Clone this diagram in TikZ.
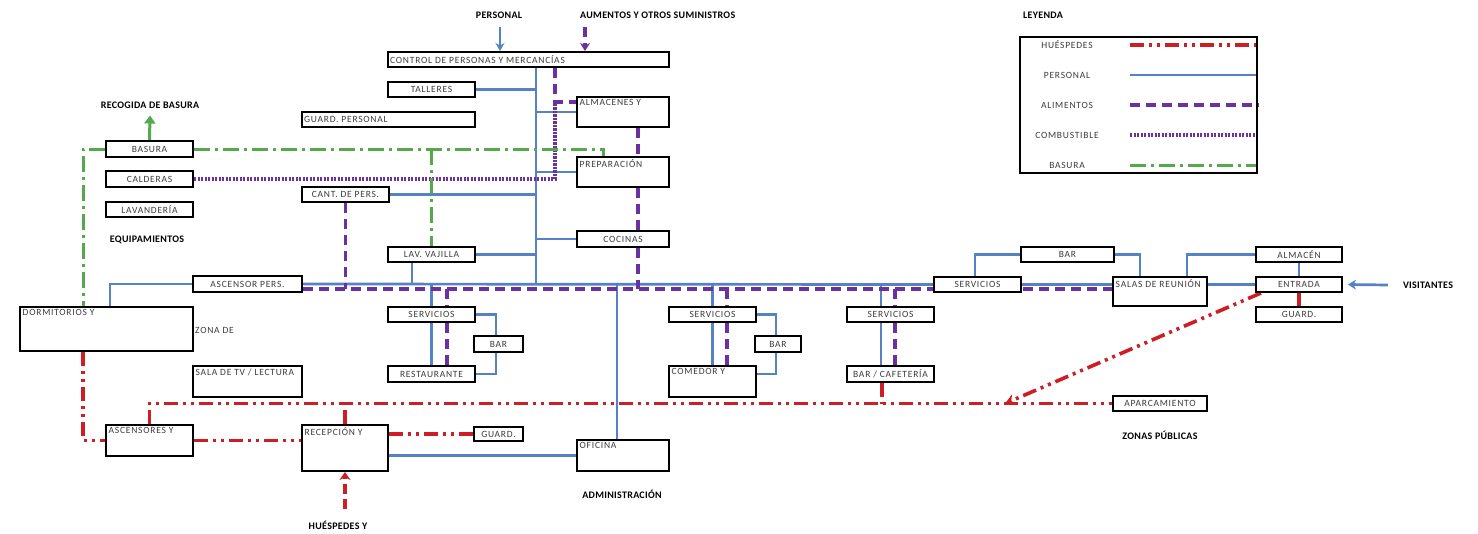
\documentclass[tikz,border=0pt]{standalone}
\usepackage{fontspec}
\setmainfont{Carlito}
\newfontfamily\bxfont[LetterSpace=8]{Carlito}
\newfontfamily\bdfont[LetterSpace=3]{Carlito}
\usetikzlibrary{arrows.meta,calc}
\pgfdeclarelayer{bg}
\pgfsetlayers{bg,main}
\definecolor{cPers}{RGB}{84,130,196}
\definecolor{cHue}{RGB}{204,30,36}
\definecolor{cAli}{RGB}{105,50,160}
\definecolor{cBas}{RGB}{86,168,76}
\definecolor{cTxt}{RGB}{60,60,60}
\tikzset{
 box/.style={draw=black, line width=2pt, fill=white, inner sep=0pt, font=\bxfont\fontsize{9.5}{10}\selectfont, text=cTxt},
 lbl/.style={font=\bxfont\fontsize{9.5}{10}\selectfont, text=cTxt, inner sep=3pt},
 ttl/.style={font=\bdfont\bfseries\fontsize{10}{11}\selectfont, text=black, inner sep=0pt},
 personal/.style={draw=cPers, line width=2.7pt},
 huesp/.style={draw=cHue, line width=3.6pt, dash pattern=on 14pt off 5pt on 3pt off 5pt on 3pt off 5pt},
 alim/.style={draw=cAli, line width=3.4pt, dash pattern=on 10pt off 6pt},
 comb/.style={draw=cAli, line width=3.2pt, dash pattern=on 2.2pt off 1.3pt},
 basura/.style={draw=cBas, line width=3pt, dash pattern=on 16pt off 5pt on 3pt off 5pt},
 legbox/.style={draw=black, line width=2.6pt, inner sep=0pt},
}
\newcommand\Bc[6]{\node[box,minimum width={#4pt-#2pt},minimum height={#5pt-#3pt}] (#1) at ({(#2+#4)/2},{(#3+#5)/2}) {#6};}
\newcommand\Bl[6]{\node[box,minimum width={#4pt-#2pt},minimum height={#5pt-#3pt},label={[lbl,anchor=west]west:#6}] (#1) at ({(#2+#4)/2},{(#3+#5)/2}) {};}
\newcommand\Bt[6]{\node[box,minimum width={#4pt-#2pt},minimum height={#5pt-#3pt},label={[lbl,anchor=north west,inner sep=3.5pt]north west:#6}] (#1) at ({(#2+#4)/2},{(#3+#5)/2}) {};}
\begin{document}
\begin{tikzpicture}[x=1pt,y=-1pt]
\useasboundingbox (0,0) rectangle (1478,533);
% boxes
\Bl{control}{388}{52}{669}{67}{CONTROL DE PERSONAS Y MERCANCÍAS}
\Bc{talleres}{388}{82}{475}{97}{TALLERES}
\Bl{guardp}{302}{112}{475}{127}{GUARD. PERSONAL}
\Bt{almacenes}{577}{97}{669}{127}{ALMACENES Y}
\Bt{prep}{577}{157}{669}{187}{PREPARACIÓN}
\Bc{cocinas}{577}{231}{669}{247}{COCINAS}
\Bc{cant}{302}{187}{389}{202}{CANT. DE PERS.}
\Bc{lav}{388}{247}{475}{262}{LAV. VAJILLA}
\Bc{basura}{106}{141}{193}{157}{BASURA}
\Bc{calderas}{106}{171}{193}{187}{CALDERAS}
\Bc{lavand}{106}{202}{193}{217}{LAVANDERÍA}
\Bc{ascp}{193}{276}{302}{292}{ASCENSOR PERS.}
\Bt{dorm}{20}{307}{193}{351}{DORMITORIOS Y}
\Bt{salatv}{193}{366}{302}{397}{SALA DE TV / LECTURA}
\Bt{asc}{106}{425}{193}{456}{ASCENSORES Y}
\Bt{recep}{302}{425}{388}{471}{RECEPCIÓN Y}
\Bc{guardr}{474}{427}{523}{441}{GUARD.}
\Bt{oficina}{577}{440}{669}{471}{OFICINA}
\Bc{serv1}{388}{307}{475}{322}{SERVICIOS}
\Bc{bar1}{474}{336}{523}{352}{BAR}
\Bc{rest}{388}{366}{475}{382}{RESTAURANTE}
\Bc{serv2}{669}{307}{756}{322}{SERVICIOS}
\Bc{bar2}{755}{336}{801}{352}{BAR}
\Bt{comedor}{669}{366}{756}{397}{COMEDOR Y}
\Bc{serv3}{847}{307}{934}{322}{SERVICIOS}
\Bc{barcaf}{847}{366}{934}{382}{BAR / CAFETERÍA}
\Bc{servT}{934}{277}{1021}{292}{SERVICIOS}
\Bc{bar3}{1021}{247}{1114}{262}{BAR}
\Bt{salas}{1113}{277}{1207}{306}{SALAS DE REUNIÓN}
\Bc{almacen}{1256}{247}{1342}{262}{ALMACÉN}
\Bc{entrada}{1256}{277}{1342}{292}{ENTRADA}
\Bc{guarde}{1256}{307}{1342}{322}{GUARD.}
\Bc{aparc}{1113}{396}{1207}{411}{APARCAMIENTO}
% titles
\node[ttl] (tPers) at (499,15) {PERSONAL};
\node[ttl,anchor=west] (tAli) at (580,15) {AUMENTOS Y OTROS SUMINISTROS};
\node[ttl] (tLey) at (1043,15) {LEYENDA};
\node[ttl] (tRec) at (150,105) {RECOGIDA DE BASURA};
\node[ttl] (tEq) at (147,240) {EQUIPAMIENTOS};
\node[ttl] (tVis) at (1428,285) {VISITANTES};
\node[ttl] (tZP) at (1160,435) {ZONAS PÚBLICAS};
\node[ttl] (tAdm) at (622,494) {ADMINISTRACIÓN};
\node[ttl] (tHue) at (338,525) {HUÉSPEDES Y};
\node[lbl,anchor=west,inner sep=1pt] (tZona) at (194,330) {ZONA DE};
% legend
\node[legbox,minimum width=237pt,minimum height=136pt] (leg) at (1138.5,105) {};
\node[lbl] (lgH) at (1067,45) {HUÉSPEDES};
\node[lbl] (lgP) at (1067,75) {PERSONAL};
\node[lbl] (lgA) at (1067,105) {ALIMENTOS};
\node[lbl] (lgC) at (1067,135) {COMBUSTIBLE};
\node[lbl] (lgB) at (1067,165) {BASURA};
\coordinate (tk) at (536,285);
\coordinate (jn) at (1005,403.5);
\begin{pgfonlayer}{bg}
\fill[white] (0,0) rectangle (1478,533);
% legend lines
\draw[huesp] (1130,0 |- lgH) -- (leg.east |- lgH);
\draw[personal] (1130,0 |- lgP) -- (leg.east |- lgP);
\draw[alim] (1130,0 |- lgA) -- (leg.east |- lgA);
\draw[comb] (1130,0 |- lgC) -- (leg.east |- lgC);
\draw[basura] (1130,0 |- lgB) -- (leg.east |- lgB);
% personal
\draw[personal,-{Stealth[length=8pt,width=9pt]}] (500,27) -- (500,0 |- control.north);
\draw[personal] (tk |- control.south) -- (tk);
\draw[personal] (talleres.east) -- (talleres.east -| tk);
\draw[personal] (tk |- almacenes.west) -- (almacenes.west);
\draw[personal] (tk |- prep.west) -- (prep.west);
\draw[personal] (tk |- cant.east) -- (cant.east);
\draw[personal] (tk |- cocinas.west) -- (cocinas.west);
\draw[personal] (lav.east) -- (lav.east -| tk);
\draw[personal] (412,0 |- lav.south) -- (412,0 |- tk);
\draw[personal] (ascp.east) -- (servT.west);
\draw[personal] (ascp.west) -| (110,0 |- dorm.north);
\draw[personal] (serv1.north |- tk) -- (serv1.north);
\draw[personal] (serv1.south) -- (rest.north);
\draw[personal] (serv1.east) -| (496,0 |- bar1.north);
\draw[personal] (496,0 |- bar1.south) |- (rest.east);
\draw[personal] (617,0 |- tk) -- (617,0 |- oficina.north);
\draw[personal] (recep.east |- oficina.west) -- (oficina.west);
\draw[personal] (serv2.north |- tk) -- (serv2.north);
\draw[personal] (serv2.south) -- (comedor.north);
\draw[personal] (serv2.east) -| (776,0 |- bar2.north);
\draw[personal] (776,0 |- bar2.south) |- (comedor.east |- rest.east);
\draw[personal] (881,0 |- tk) -- (881,0 |- serv3.north);
\draw[personal] (881,0 |- serv3.south) -- (881,0 |- barcaf.north);
\draw[personal] (servT.east) -- (servT.east -| salas.west);
\draw[personal] (salas.east |- entrada.west) -- (entrada.west);
\draw[personal] (975,0 |- servT.north) |- (bar3.west);
\draw[personal] (bar3.east) -| (1140,0 |- salas.north);
\draw[personal] (1187,0 |- salas.north) |- (almacen.west);
\draw[personal] (almacen.south) -- (entrada.north);
\draw[personal,-{Stealth[length=8pt,width=10pt]}] ($(tVis.west)+(-15,0)$) -- ($(entrada.east)+(5,0)$);
% alimentos
\draw[alim,-{Stealth[length=8pt,width=10pt]}] (585,27) -- (585,0 |- control.north);
\draw[alim] (555,0 |- control.south) |- (almacenes.west |- 0,102);
\draw[alim] (638,0 |- almacenes.south) -- (638,0 |- prep.north);
\draw[alim] (638,0 |- prep.south) -- (638,0 |- cocinas.north);
\draw[alim] (638,0 |- cocinas.south) -- (638,289);
\draw[alim] (ascp.east |- 0,289) -- (salas.west |- 0,289);
\draw[alim] (cant.south) -- (cant.south |- 0,289);
\draw[alim] (447,289) -- (447,0 |- serv1.north);
\draw[alim] (447,0 |- serv1.south) -- (447,0 |- rest.north);
\draw[alim] (727,289) -- (727,0 |- serv2.north);
\draw[alim] (727,0 |- serv2.south) -- (727,0 |- comedor.north);
\draw[alim] (895,289) -- (895,0 |- serv3.north);
\draw[alim] (895,0 |- serv3.south) -- (895,0 |- barcaf.north);
% combustible
\draw[comb] (calderas.east) -| (555,102);
% basura
\draw[basura] (basura.east) -| (603,0 |- prep.north);
\draw[basura] (basura.west) -| (83,0 |- dorm.north);
\draw[basura] (lav.north |- basura.east) -- (lav.north);
\draw[draw=cBas,line width=3pt,-{Triangle[length=8pt,width=11pt]}] (basura.north) -- ($(tRec.south)+(0,7)$);
% huespedes
\draw[huesp] (83,0 |- dorm.south) |- (asc.west);
\draw[huesp] (asc.east) -- (asc.east -| recep.west);
\draw[huesp] (asc.north) |- (aparc.west);
\draw[huesp] (recep.north) -- (recep.north |- aparc.west);
\draw[huesp] (recep.east |- guardr.west) -- (guardr.west);
\draw[huesp] (882,0 |- barcaf.south) -- (882,0 |- aparc.west);
\draw[huesp,-{Stealth[length=10pt,width=11pt]}] ($(entrada.south west)+(6,0)$) -- (jn);
\draw[draw=cHue,line width=3.6pt] (entrada.south) -- (guarde.north);
\draw[draw=cHue,line width=3.6pt,dash pattern=on 10pt off 5pt,-{Stealth[length=8pt,width=11pt]}] ($(recep.south |- tHue.north)+(0,-12)$) -- (recep.south);
\end{pgfonlayer}
\end{tikzpicture}
\end{document}
